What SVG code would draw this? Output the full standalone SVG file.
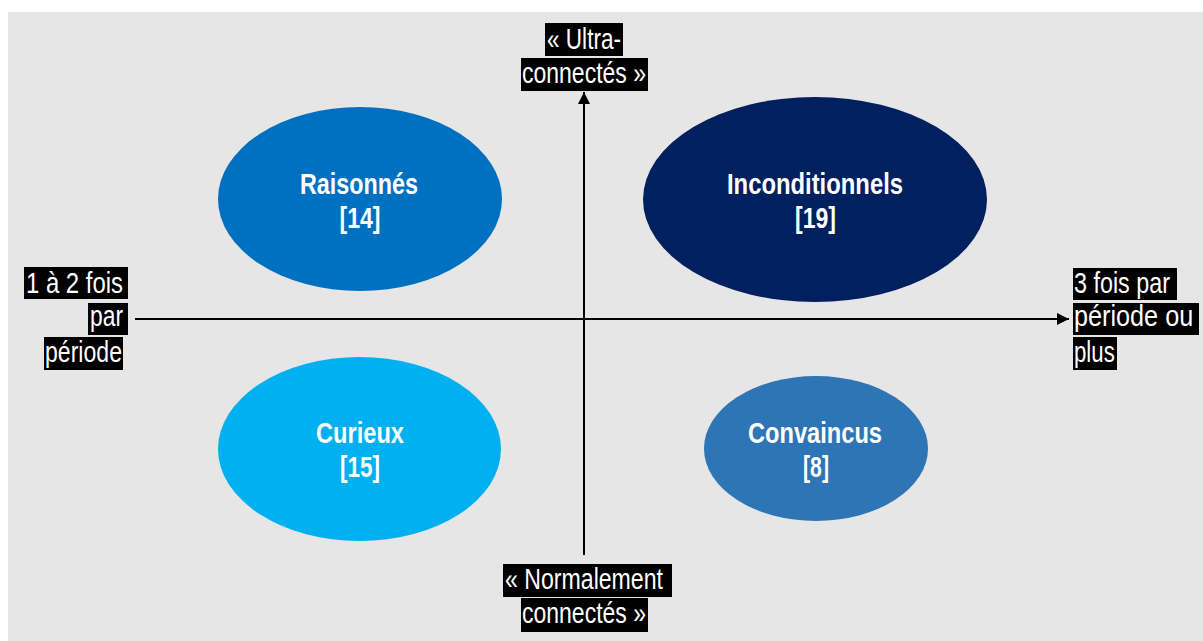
<svg xmlns="http://www.w3.org/2000/svg" width="1203" height="641" viewBox="0 0 1203 641">
<defs>
<style>
.bg{fill:#e7e6e6}
.lbl{font-family:"Liberation Sans Narrow","Liberation Sans",Arial,sans-serif;font-size:30px;fill:#ffffff}
.hl{fill:#000000}
.node{font-family:"Liberation Sans Narrow","Liberation Sans",Arial,sans-serif;font-size:29px;font-weight:bold;fill:#ffffff;text-anchor:middle}
.axis{stroke:#000000;stroke-width:2;fill:none}
</style>
<marker id="arr" viewBox="0 0 10 10" refX="10" refY="5" markerWidth="6" markerHeight="6" markerUnits="strokeWidth" orient="auto">
<path d="M0,0 L10,5 L0,10 z" fill="#000000"/>
</marker>
</defs>
<rect class="bg" x="8" y="12" width="1195" height="629"/>

<g id="connectors">
<line class="axis" x1="584" y1="555" x2="584" y2="92" marker-end="url(#arr)"/>
<line class="axis" x1="135" y1="319" x2="1069" y2="319" marker-end="url(#arr)"/>
</g>

<g id="node-raisonnes">
<ellipse cx="360" cy="199" rx="142" ry="92" fill="#0070c0"/>
<text class="node" x="359" y="194" textLength="118" lengthAdjust="spacingAndGlyphs">Raisonnés</text>
<text class="node" x="360" y="228" textLength="41" lengthAdjust="spacingAndGlyphs">[14]</text>
</g>

<g id="node-inconditionnels">
<ellipse cx="815" cy="199.5" rx="172" ry="102.5" fill="#002060"/>
<text class="node" x="815" y="194" textLength="176" lengthAdjust="spacingAndGlyphs">Inconditionnels</text>
<text class="node" x="815.5" y="228" textLength="41" lengthAdjust="spacingAndGlyphs">[19]</text>
</g>

<g id="node-curieux">
<ellipse cx="359.5" cy="449" rx="141.5" ry="92" fill="#00b0f0"/>
<text class="node" x="360" y="443" textLength="88" lengthAdjust="spacingAndGlyphs">Curieux</text>
<text class="node" x="360" y="477" textLength="40" lengthAdjust="spacingAndGlyphs">[15]</text>
</g>

<g id="node-convaincus">
<ellipse cx="816" cy="448.5" rx="112" ry="72.5" fill="#2e75b6"/>
<text class="node" x="815" y="443" textLength="134" lengthAdjust="spacingAndGlyphs">Convaincus</text>
<text class="node" x="816" y="477" textLength="26" lengthAdjust="spacingAndGlyphs">[8]</text>
</g>

<g id="label-top">
<rect class="hl" x="545" y="23" width="78" height="33"/>
<rect class="hl" x="521" y="58" width="127" height="33"/>
<text class="lbl" x="547" y="49" textLength="74" lengthAdjust="spacingAndGlyphs">« Ultra-</text>
<text class="lbl" x="522" y="83" textLength="124" lengthAdjust="spacingAndGlyphs">connectés »</text>
</g>

<g id="label-bottom">
<rect class="hl" x="503" y="564" width="169" height="33"/>
<rect class="hl" x="521" y="598" width="127" height="34"/>
<text class="lbl" x="505" y="589" textLength="158" lengthAdjust="spacingAndGlyphs">« Normalement</text>
<text class="lbl" x="522" y="623" textLength="124" lengthAdjust="spacingAndGlyphs">connectés »</text>
</g>

<g id="label-left">
<rect class="hl" x="24" y="267" width="104" height="32"/>
<rect class="hl" x="88" y="303" width="40" height="32"/>
<rect class="hl" x="44" y="337" width="79" height="33"/>
<text class="lbl" x="26" y="293" textLength="97" lengthAdjust="spacingAndGlyphs">1 à 2 fois</text>
<text class="lbl" x="90" y="326" textLength="33" lengthAdjust="spacingAndGlyphs">par</text>
<text class="lbl" x="45" y="362" textLength="77" lengthAdjust="spacingAndGlyphs">période</text>
</g>

<g id="label-right">
<rect class="hl" x="1073" y="268" width="104" height="32"/>
<rect class="hl" x="1073" y="303" width="126" height="32"/>
<rect class="hl" x="1073" y="337" width="44" height="33"/>
<text class="lbl" transform="translate(1074,293) scale(0.8,1)" textLength="120" lengthAdjust="spacingAndGlyphs">3 fois par</text>
<text class="lbl" transform="translate(1074,326) scale(0.8,1)" textLength="149" lengthAdjust="spacingAndGlyphs">période ou</text>
<text class="lbl" transform="translate(1074,362) scale(0.8,1)" textLength="51" lengthAdjust="spacingAndGlyphs">plus</text>
</g>
</svg>
